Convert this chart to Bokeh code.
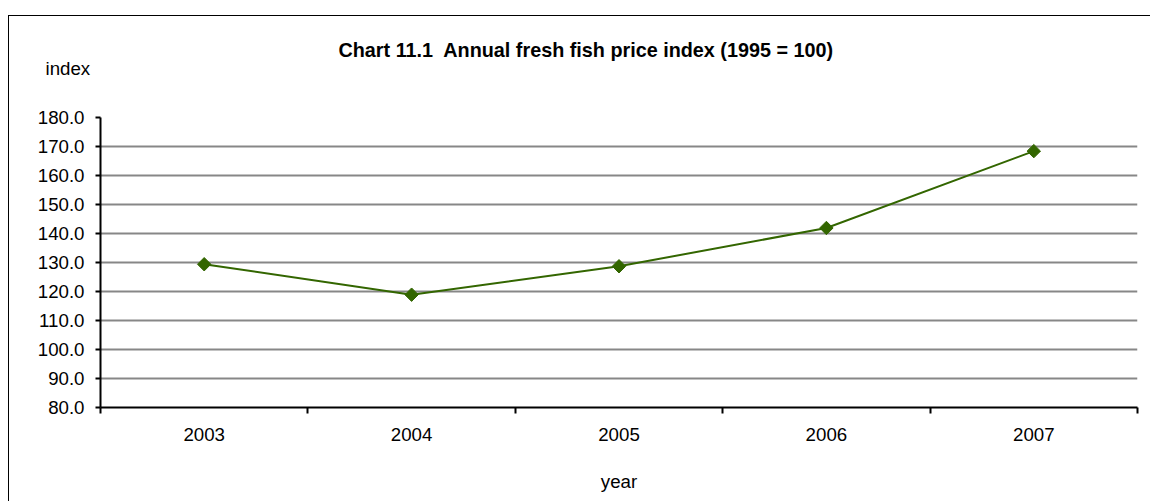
import math
from bokeh.plotting import figure
from bokeh.models import Range1d, FixedTicker, PrintfTickFormatter, Title, ColumnDataSource
from bokeh.embed import file_html
from bokeh.resources import INLINE

# ---- data ----
years = ["2003", "2004", "2005", "2006", "2007"]
price_index = [129.4, 118.9, 128.7, 141.9, 168.4]
y_ticks = [80, 90, 100, 110, 120, 130, 140, 150, 160, 170, 180]

title_text = "Chart 11.1\u00a0 Annual fresh fish price index (1995 = 100)"
y_title = "index"
x_title = "year"

FONT = "Liberation Sans"
GREEN = "#336600"

xs = [i + 1 for i in range(len(years))]
src = ColumnDataSource(dict(x=xs, y=price_index, year=years))

p = figure(width=1142, height=486, output_backend="svg", toolbar_location=None,
           x_range=Range1d(0.5, len(years) + 0.5), y_range=Range1d(y_ticks[0], y_ticks[-1]),
           min_border_left=91, min_border_right=14, min_border_top=101, min_border_bottom=95)
p.title = None
p.styles = {"margin-left": "8px", "margin-top": "15px",
            "border-top": "1px solid black", "border-left": "1px solid black"}
p.outline_line_color = None
p.background_fill_color = "white"
p.border_fill_color = "white"

# x axis: labels at centers, ticks at category boundaries
p.xaxis.ticker = FixedTicker(ticks=xs, minor_ticks=[x - 0.5 for x in xs] + [xs[-1] + 0.5])
p.xaxis.major_label_overrides = {x: y for x, y in zip(xs, years)}
p.xaxis.major_tick_out = 0
p.xaxis.major_tick_in = 0
p.xaxis.minor_tick_out = 6
p.xaxis.minor_tick_in = 0
p.xaxis.minor_tick_line_color = "black"
p.xaxis.minor_tick_line_width = 2
p.xaxis.axis_line_color = "black"
p.xaxis.axis_line_width = 2
p.xaxis.major_label_text_font = FONT
p.xaxis.major_label_text_font_size = "18.7px"
p.xaxis.major_label_text_color = "black"
p.xaxis.major_label_standoff = 14
p.xaxis.axis_label = x_title
p.xaxis.axis_label_text_font = FONT
p.xaxis.axis_label_text_font_size = "18.7px"
p.xaxis.axis_label_text_font_style = "normal"
p.xaxis.axis_label_text_color = "black"
p.xaxis.axis_label_standoff = 27

# y axis
p.yaxis.ticker = FixedTicker(ticks=y_ticks, minor_ticks=[])
p.yaxis.formatter = PrintfTickFormatter(format="%.1f")
p.yaxis.major_tick_out = 5
p.yaxis.major_tick_in = 0
p.yaxis.major_tick_line_width = 2
p.yaxis.major_tick_line_color = "black"
p.yaxis.axis_line_color = "black"
p.yaxis.axis_line_width = 2
p.yaxis.major_label_text_font = FONT
p.yaxis.major_label_text_font_size = "18.7px"
p.yaxis.major_label_text_color = "black"
p.yaxis.major_label_standoff = 11

p.xgrid.grid_line_color = None
p.ygrid.grid_line_color = "#878787"
p.ygrid.grid_line_width = 2

p.line("x", "y", source=src, line_color=GREEN, line_width=2)
p.scatter("x", "y", source=src, marker="square", size=9.5, angle=math.pi / 4,
          fill_color=GREEN, line_color=GREEN)

# titles: first added sits nearest the frame
p.add_layout(Title(text=y_title, align="left", offset=-55, standoff=78,
                   text_font=FONT, text_font_size="18.7px", text_font_style="normal",
                   text_color="black"), "above")
p.add_layout(Title(text=title_text, align="left", offset=238, standoff=-88,
                   text_font=FONT, text_font_size="19.8px", text_font_style="bold",
                   text_color="black"), "above")

open("out.html", "w").write(file_html(p, INLINE))
